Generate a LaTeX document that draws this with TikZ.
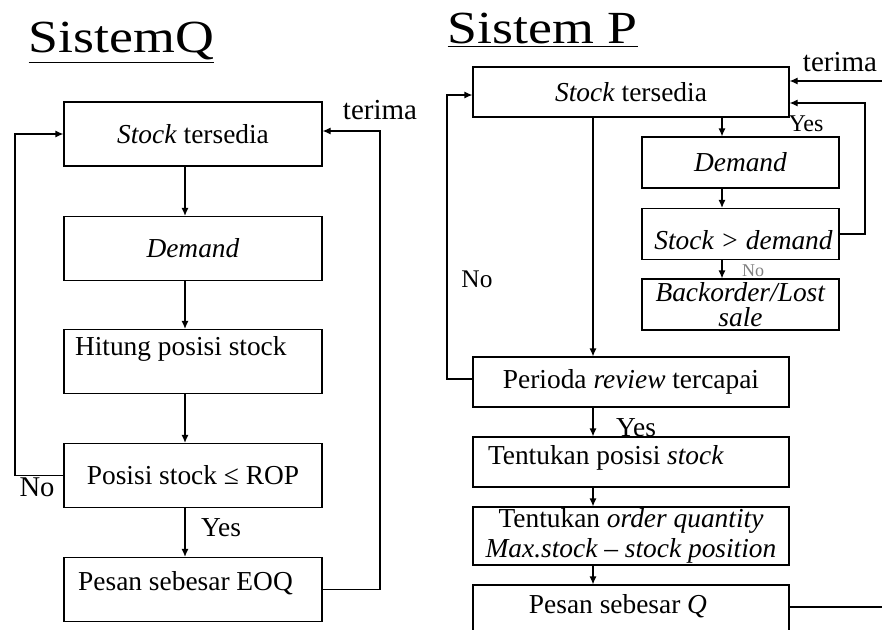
\documentclass[tikz,border=0pt]{standalone}
\usepackage{fontspec}
\usepackage{graphicx}
\setmainfont{Liberation Serif}
\usetikzlibrary{arrows.meta}
\usetikzlibrary{positioning}

\begin{document}
\begin{tikzpicture}[
				x=0.5pt, y=-0.5pt,
				line width=0.6pt,
				font=\fontsize{13.7}{15}\selectfont,
				arrow/.style={-{Latex[length=4pt,width=3.5pt]}},
				title/.style={font=\fontsize{23}{26}\selectfont, anchor=base west, inner sep=0pt},
				qbox/.style={draw, minimum width=129pt, minimum height=32pt, inner sep=0pt},
				pbox/.style={draw, minimum width=158pt, minimum height=25pt, inner sep=0pt},
				psmall/.style={draw, minimum width=98.5pt, minimum height=25.5pt, inner sep=0pt},
				lbl/.style={inner sep=0pt},
			]
				\useasboundingbox (0,0) rectangle (882,629);
				\clip (0,0) rectangle (882,629);

				% Sistem Q
				\node (qtitle) [title] at (28,52) {\scalebox{1.17}[1]{\underline{SistemQ}}};
				\node (qstock) [qbox] at (193,134) {\textit{Stock} tersedia};
				\node (qdemand) [qbox] at (193,248.5) {\textit{Demand}};
				\node (qhitung) [qbox, label={[lbl, anchor=north west, xshift=5.5pt, yshift=-3.5pt]north west:Hitung posisi stock}] at (193,361.5) {};
				\node (qrop) [qbox] at (193,475.5) {Posisi stock ≤ ROP};
				\node (qpesan) [qbox, label={[lbl, xshift=-3.75pt, yshift=3pt]center:Pesan sebesar EOQ}] at (193,589.5) {};
				\node (qterima) [font=\fontsize{14.5}{16}\selectfont] at (380,110) {terima};
				\node (qno) [font=\fontsize{14.3}{16}\selectfont] at (37,487) {No};
				\node (qyes) at (221,528) {Yes};

				\coordinate (qax) at (185,0);
				\coordinate (qleft) at (15,0);
				\coordinate (qright) at (380,0);

				\draw[arrow] (qstock.south -| qax) -- (qdemand.north -| qax);
				\draw[arrow] (qdemand.south -| qax) -- (qhitung.north -| qax);
				\draw[arrow] (qhitung.south -| qax) -- (qrop.north -| qax);
				\draw[arrow] (qrop.south -| qax) -- (qpesan.north -| qax);
				\draw[arrow] (qrop.west) -- (qrop.west -| qleft) |- (qstock.west);
				\draw[arrow] (qpesan.east) -- (qpesan.east -| qright) |- ([yshift=1.5pt]qstock.east);

				% Sistem P
				\node (ptitle) [title] at (447,43) {\scalebox{1.17}[1]{\underline{Sistem P}}};
				\node (pstock) [pbox] at (631,92) {\textit{Stock} tersedia};
				\node (pdemand) [psmall] at (740.5,162.5) {\textit{Demand}};
				\node (pcek) [psmall, label={[lbl, xshift=1.5pt, yshift=-3pt]center:\textit{Stock > demand}}] at (740.5,234) {};
				\node (plost) [psmall, align=center, font=\fontsize{13.7}{12.5}\selectfont] at (740.5,304.5) {\textit{Backorder/Lost}\\\textit{sale}};
				\node (preview) [pbox] at (631,382) {Perioda \textit{review} tercapai};
				\node (pposisi) [pbox, label={[lbl, anchor=north west, xshift=7.5pt, yshift=-4pt]north west:Tentukan posisi \textit{stock}}] at (631,462) {};
				\node (porder) [pbox, minimum height=29pt, align=center] at (631,536) {Tentukan \textit{order quantity}\\\textit{Max.stock – stock position}};
				\node (ppesan) [pbox, minimum height=30pt, label={[lbl, xshift=-6.5pt, yshift=4.5pt]center:Pesan sebesar \textit{Q}}] at (631,615) {};
				\node (pterima) [font=\fontsize{14.5}{16}\selectfont] at (840,62) {terima};
				\node (pyes1) [font=\fontsize{12}{14}\selectfont] at (806,124) {Yes};
				\node (pno1) [font=\fontsize{9}{10}\selectfont, text=gray] at (753,271) {No};
				\node (pno2) [font=\fontsize{12.7}{14}\selectfont] at (477,279) {No};
				\node (pyes2) at (636,428) {Yes};

				\coordinate (pax) at (722,0);
				\coordinate (pmain) at (593,0);
				\coordinate (pleft) at (447,0);
				\coordinate (pright) at (865,0);
				\coordinate (pin) at (882,81);
				\coordinate (pout) at (882,607);

				\draw[arrow] (pstock.south -| pax) -- (pdemand.north -| pax);
				\draw[arrow] (pdemand.south -| pax) -- (pcek.north -| pax);
				\draw[arrow] (pcek.south -| pax) -- (plost.north -| pax);
				\draw[arrow] (pcek.east) -- (pcek.east -| pright) |- ([yshift=-5.5pt]pstock.east);
				\draw[arrow] (pin) -- (pin -| pstock.east);
				\draw[arrow] (pstock.south -| pmain) -- (preview.north -| pmain);
				\draw[arrow] ([yshift=1.5pt]preview.west) -- ([yshift=1.5pt]preview.west -| pleft) |- ([yshift=-1.5pt]pstock.west);
				\draw[arrow] (preview.south -| pmain) -- (pposisi.north -| pmain);
				\draw[arrow] (pposisi.south -| pmain) -- (porder.north -| pmain);
				\draw[arrow] (porder.south -| pmain) -- (ppesan.north -| pmain);
				\draw (ppesan.east |- pout) -- (pout);
			\end{tikzpicture}
\end{document}
